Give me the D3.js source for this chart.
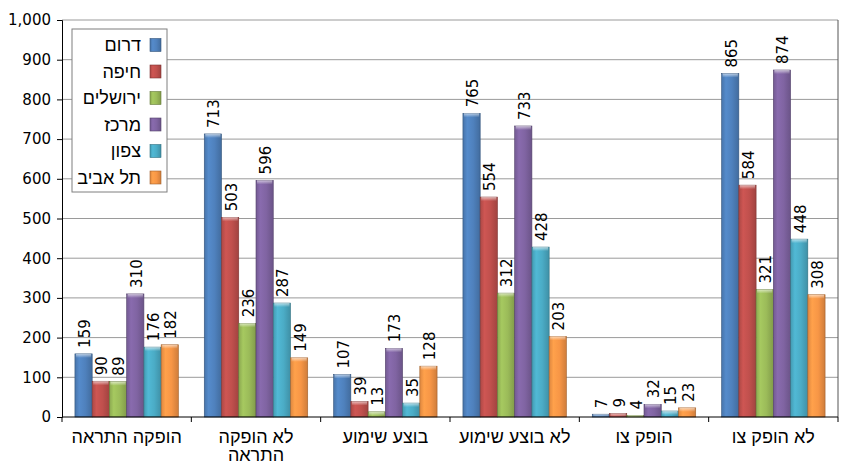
<!DOCTYPE html>
<html>
<head>
<meta charset="utf-8">
<script src="https://cdn.jsdelivr.net/npm/d3@7"></script>
<style>
  body { margin: 0; background: #fff; }
  text { font-family: "DejaVu Sans", Verdana, sans-serif; fill: #000; }
  .heb { font-family: "Liberation Sans", Arial, sans-serif; }
</style>
</head>
<body>
<div id="chart"></div>
<script>
// categories (left to right) and their tick labels (split on two lines where needed)
var categories = ["הופקה התראה", "לא הופקה התראה", "בוצע שימוע", "לא בוצע שימוע", "הופק צו", "לא הופק צו"];
var tickLabels = [["הופקה התראה"], ["לא הופקה", "התראה"], ["בוצע שימוע"], ["לא בוצע שימוע"], ["הופק צו"], ["לא הופק צו"]];

// series
var seriesNames = ["דרום", "חיפה", "ירושלים", "מרכז", "צפון", "תל אביב"];
var seriesColors = ["#4f81bd", "#c0504d", "#9bbb59", "#8064a2", "#4bacc6", "#f79646"];

var south     = [159, 713, 107, 765, 7, 865];
var haifa     = [90, 503, 39, 554, 9, 584];
var jerusalem = [89, 236, 13, 312, 4, 321];
var center    = [310, 596, 173, 733, 32, 874];
var north     = [176, 287, 35, 428, 15, 448];
var telAviv   = [182, 149, 128, 203, 23, 308];
var seriesValues = [south, haifa, jerusalem, center, north, telAviv];

var yTicks = [0, 100, 200, 300, 400, 500, 600, 700, 800, 900, 1000];

var svgWidth = 841, svgHeight = 464;
var margin = { top: 20, right: 3, bottom: 47, left: 62 };
var width = svgWidth - margin.left - margin.right;
var height = svgHeight - margin.top - margin.bottom;

var svg = d3.select("#chart").append("svg")
    .attr("width", svgWidth)
    .attr("height", svgHeight);

// gradients for the bevelled bars
var defs = svg.append("defs");
seriesColors.forEach(function(c, i) {
    var base = d3.color(c);
    var g = defs.append("linearGradient").attr("id", "grad" + i)
        .attr("x1", "0").attr("x2", "1").attr("y1", "0").attr("y2", "0");
    g.append("stop").attr("offset", "0").attr("stop-color", base.darker(0.3));
    g.append("stop").attr("offset", "0.25").attr("stop-color", base.brighter(0.2));
    g.append("stop").attr("offset", "0.6").attr("stop-color", base);
    g.append("stop").attr("offset", "1").attr("stop-color", base.darker(0.5));
});
var capGrad = defs.append("linearGradient").attr("id", "cap")
    .attr("x1", "0").attr("x2", "0").attr("y1", "0").attr("y2", "1");
capGrad.append("stop").attr("offset", "0").attr("stop-color", "#fff").attr("stop-opacity", 0.6);
capGrad.append("stop").attr("offset", "1").attr("stop-color", "#fff").attr("stop-opacity", 0);

var chartGroup = svg.append("g")
    .attr("transform", `translate(${margin.left}, ${margin.top})`);

// scales
var x0 = d3.scaleBand().domain(categories).range([0, width]);
var x1 = d3.scaleBand().domain(seriesNames).range([0, x0.bandwidth()])
    .paddingInner(0).paddingOuter(0.75);
var y = d3.scaleLinear().domain([0, 1000]).range([height, 0]);

// gridlines
chartGroup.append("g")
    .selectAll("line")
    .data(yTicks.slice(1))
    .enter().append("line")
    .attr("x1", 0).attr("x2", width)
    .attr("y1", d => y(d)).attr("y2", d => y(d))
    .attr("stroke", "#9a9a9a")
    .attr("stroke-width", 1);

// right border
chartGroup.append("line")
    .attr("x1", width).attr("x2", width).attr("y1", 0).attr("y2", height)
    .attr("stroke", "#555");

// bars
seriesNames.forEach(function(name, si) {
    var g = chartGroup.append("g");
    var data = categories.map((c, ci) => ({ cat: c, v: seriesValues[si][ci] }));
    g.selectAll("rect.bar")
        .data(data).enter().append("rect")
        .attr("class", "bar")
        .attr("x", d => x0(d.cat) + x1(name))
        .attr("y", d => y(d.v))
        .attr("width", x1.bandwidth())
        .attr("height", d => height - y(d.v))
        .attr("fill", "url(#grad" + si + ")")
        .attr("stroke", d3.color(seriesColors[si]).darker(1.2))
        .attr("stroke-width", 0.6);
    g.selectAll("rect.cap")
        .data(data).enter().append("rect")
        .attr("class", "cap")
        .attr("x", d => x0(d.cat) + x1(name) + 1)
        .attr("y", d => y(d.v))
        .attr("width", x1.bandwidth() - 2)
        .attr("height", d => Math.min(4, height - y(d.v)))
        .attr("fill", "url(#cap)");
    g.selectAll("text")
        .data(data).enter().append("text")
        .attr("transform", d => `translate(${x0(d.cat) + x1(name) + x1.bandwidth() / 2 + 1}, ${y(d.v) - 6}) rotate(-90)`)
        .attr("dy", "0.36em")
        .attr("font-size", "15px")
        .text(d => d.v);
});

// y axis
var yAxis = d3.axisLeft(y).tickValues(yTicks).tickFormat(d3.format(",")).tickSize(5).tickPadding(6);
var yAxisG = chartGroup.append("g").call(yAxis);
yAxisG.select(".domain").attr("stroke", "#000");
yAxisG.selectAll(".tick line").attr("stroke", "#000");
yAxisG.selectAll("text").attr("font-size", "15px").attr("font-family", "DejaVu Sans, Verdana, sans-serif");

// x axis
var xAxisG = chartGroup.append("g").attr("transform", `translate(0, ${height})`);
xAxisG.append("line").attr("x1", 0).attr("x2", width).attr("stroke", "#000");
xAxisG.selectAll("line.tick")
    .data(d3.range(categories.length + 1))
    .enter().append("line")
    .attr("class", "tick")
    .attr("x1", i => i * x0.step()).attr("x2", i => i * x0.step())
    .attr("y1", 0).attr("y2", 5)
    .attr("stroke", "#000");
xAxisG.selectAll("text")
    .data(categories)
    .enter().append("text")
    .attr("class", "heb")
    .attr("x", d => x0(d) + x0.bandwidth() / 2)
    .attr("y", 20)
    .attr("text-anchor", "middle")
    .attr("font-size", "18px")
    .each(function(d, i) {
        var t = d3.select(this);
        tickLabels[i].forEach(function(line, li) {
            t.append("tspan")
                .attr("x", x0(d) + x0.bandwidth() / 2)
                .attr("dy", li === 0 ? "0.35em" : "1.0em")
                .text(line);
        });
    });

// legend
var legend = svg.append("g").attr("transform", "translate(72, 29)");
legend.append("rect")
    .attr("width", 95).attr("height", 163)
    .attr("fill", "#fff")
    .attr("stroke", "#7f7f7f");
seriesNames.forEach(function(name, i) {
    var row = legend.append("g").attr("transform", `translate(0, ${16 + i * 26.5})`);
    row.append("rect")
        .attr("x", 78).attr("y", -6.5)
        .attr("width", 11).attr("height", 13)
        .attr("fill", "url(#grad" + i + ")")
        .attr("stroke", d3.color(seriesColors[i]).darker(1.2))
        .attr("stroke-width", 0.6);
    row.append("text")
        .attr("class", "heb")
        .attr("x", 69)
        .attr("dy", "0.35em")
        .attr("text-anchor", "end")
        .attr("font-size", "18px")
        .text(name);
});
</script>
</body>
</html>
